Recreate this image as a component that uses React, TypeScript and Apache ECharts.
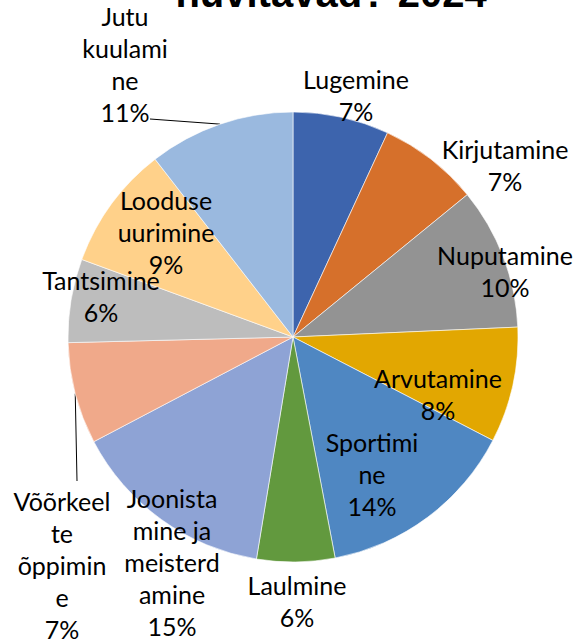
import React, { useEffect, useRef } from "react";
import * as echarts from "echarts";

const categories = [
  "Lugemine",
  "Kirjutamine",
  "Nuputamine",
  "Arvutamine",
  "Sportimine",
  "Laulmine",
  "Joonistamine ja meisterdamine",
  "Võõrkeelte õppimine",
  "Tantsimine",
  "Looduse uurimine",
  "Jutu kuulamine",
];
const labelLines = [
  "Lugemine",
  "Kirjutamine",
  "Nuputamine",
  "Arvutamine",
  "Sportimi\nne",
  "Laulmine",
  "Joonista\nmine ja\nmeisterd\namine",
  "Võõrkeel\nte\nõppimin\ne",
  "Tantsimine",
  "Looduse\nuurimine",
  "Jutu\nkuulami\nne",
];
const values = [6.9, 7.2, 10.2, 8.3, 14.4, 5.6, 14.7, 7.3, 6.0, 8.9, 10.5];
const colors = [
  "#3D64AD",
  "#D6702B",
  "#939393",
  "#E2A701",
  "#4F87C2",
  "#62993E",
  "#8EA3D5",
  "#F0A98A",
  "#BDBDBD",
  "#FFD18A",
  "#9AB9DF",
];
const titleText = "huvitavad? 2024";

// label anchor centres (px) and leader-line end points
const labelPos: number[][] = [
  [356, 95],
  [505, 165],
  [505, 271],
  [438, 394],
  [372, 474],
  [297, 601],
  [172, 562],
  [62, 565],
  [101, 296],
  [166, 232],
  [125, 64],
];
const leaderEnd: Record<number, number[]> = {
  10: [150, 119],
  7: [77, 481],
};

export default function App() {
  const ref = useRef<HTMLDivElement>(null);
  useEffect(() => {
    if (!ref.current) return;
    const chart = echarts.init(ref.current, undefined, { renderer: "svg" });
    const data = categories.map((c, i) => ({
      name: c,
      value: values[i],
      itemStyle: { color: colors[i] },
      labelLine: { show: leaderEnd[i] !== undefined },
    }));
    chart.setOption({
      animation: false,
      backgroundColor: "#ffffff",
      graphic: [
        {
          type: "text",
          x: 331,
          y: -7,
          style: {
            text: titleText,
            font: "bold 40px 'Liberation Sans'",
            fill: "#000000",
            align: "center",
            verticalAlign: "middle",
          },
        },
      ],
      series: [
        {
          type: "pie",
          center: [293, 337],
          radius: 225,
          startAngle: 90,
          clockwise: true,
          avoidLabelOverlap: false,
          itemStyle: { borderColor: "#ffffff", borderWidth: 0.6 },
          label: {
            show: true,
            position: "outside",
            formatter: (p: any) =>
              labelLines[p.dataIndex] + "\n" + Math.round(p.percent) + "%",
            fontFamily: "Lato",
            fontSize: 25,
            lineHeight: 32,
            color: "#000000",
            align: "center",
          },
          labelLine: {
            show: false,
            length: 10,
            length2: 10,
            lineStyle: { color: "#000000", width: 1 },
          },
          labelLayout: (params: any) => {
            const i = params.dataIndex;
            const out: any = {
              x: labelPos[i][0],
              y: labelPos[i][1],
              align: "center",
              verticalAlign: "middle",
            };
            if (leaderEnd[i] && params.labelLinePoints) {
              out.labelLinePoints = [
                params.labelLinePoints[0],
                leaderEnd[i],
              ];
            }
            return out;
          },
          data,
        },
      ],
    });
    return () => chart.dispose();
  }, []);
  return (
    <div
      ref={ref}
      style={{ position: "absolute", left: 0, top: 0, width: 582, height: 641 }}
    />
  );
}
